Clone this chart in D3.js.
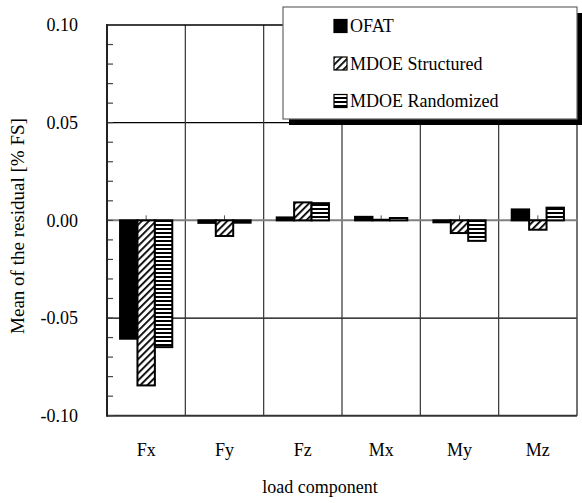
<!DOCTYPE html>
<html>
<head>
<meta charset="utf-8">
<script src="https://cdn.jsdelivr.net/npm/d3@7"></script>
<style>
  html, body { margin: 0; padding: 0; background: #fff; }
  svg { display: block; }
</style>
</head>
<body>
<svg id="chart" width="582" height="503" font-family="'Liberation Serif', 'Times New Roman', serif"></svg>
<script>
// Load components on the category axis
const categories = ["Fx", "Fy", "Fz", "Mx", "My", "Mz"];
// Series names (legend order)
const seriesNames = ["OFAT", "MDOE Structured", "MDOE Randomized"];
// Mean residual per load component, % FS
const ofat       = [-0.0606, -0.0013, 0.0015, 0.0018, -0.0010, 0.0056];
const structured = [-0.0845, -0.0080, 0.0092, 0.0003, -0.0065, -0.0048];
const randomized = [-0.0649, -0.0012, 0.0088, 0.0012, -0.0105, 0.0065];
// Value axis ticks
const yTicks = [-0.10, -0.05, 0.00, 0.05, 0.10];
const yTickLabels = ["-0.10", "-0.05", "0.00", "0.05", "0.10"];
const yMinorTicks = d3.range(-10, 11).map(i => i / 100);

const seriesValues = [ofat, structured, randomized];

const svg = d3.select("#chart");
const plot = { left: 107, top: 25, right: 577, bottom: 415.7 };

const x0 = d3.scaleBand().domain(categories).range([plot.left, plot.right]).paddingInner(0).paddingOuter(0);
// 3 bars + 150% gap width per category
const gapUnits = 1.5;
const x1 = d3.scaleBand().domain(seriesNames)
  .range([0, x0.bandwidth()])
  .paddingInner(0)
  .paddingOuter(gapUnits / 2);
const y = d3.scaleLinear().domain([-0.1, 0.1]).range([plot.bottom, plot.top]);

// Fill patterns
const defs = svg.append("defs");
const diag = defs.append("pattern").attr("id", "pat-diag")
  .attr("patternUnits", "userSpaceOnUse").attr("width", 5).attr("height", 5)
  .attr("patternTransform", "rotate(45)");
diag.append("rect").attr("width", 5).attr("height", 5).attr("fill", "#fff");
diag.append("rect").attr("x", 0).attr("y", 0).attr("width", 1.8).attr("height", 5).attr("fill", "#000");

const horiz = defs.append("pattern").attr("id", "pat-horiz")
  .attr("patternUnits", "userSpaceOnUse").attr("width", 4).attr("height", 4);
horiz.append("rect").attr("width", 4).attr("height", 4).attr("fill", "#fff");
horiz.append("rect").attr("x", 0).attr("y", 0).attr("width", 4).attr("height", 2).attr("fill", "#000");

const fills = { "OFAT": "#000", "MDOE Structured": "url(#pat-diag)", "MDOE Randomized": "url(#pat-horiz)" };

// Horizontal gridlines
const g = svg.append("g");
g.selectAll("line.hgrid").data(yTicks.filter(v => v !== 0 && Math.abs(v) < 0.1)).join("line")
  .attr("class", "hgrid")
  .attr("x1", plot.left).attr("x2", plot.right)
  .attr("y1", d => y(d)).attr("y2", d => y(d))
  .attr("stroke", "#000").attr("stroke-width", 1.2);

// Vertical gridlines at category boundaries
g.selectAll("line.vgrid").data(categories.slice(1)).join("line")
  .attr("class", "vgrid")
  .attr("x1", d => x0(d)).attr("x2", d => x0(d))
  .attr("y1", plot.top).attr("y2", plot.bottom)
  .attr("stroke", "#333").attr("stroke-width", 1.2);

// Plot frame
g.append("line").attr("x1", plot.left).attr("x2", plot.right).attr("y1", plot.top).attr("y2", plot.top)
  .attr("stroke", "#000").attr("stroke-width", 1.5);
g.append("line").attr("x1", plot.right).attr("x2", plot.right).attr("y1", plot.top).attr("y2", plot.bottom)
  .attr("stroke", "#444").attr("stroke-width", 1.5);
g.append("line").attr("x1", plot.left).attr("x2", plot.right).attr("y1", plot.bottom).attr("y2", plot.bottom)
  .attr("stroke", "#333").attr("stroke-width", 2);

// Zero line (category axis)
g.append("line").attr("x1", plot.left).attr("x2", plot.right).attr("y1", y(0)).attr("y2", y(0))
  .attr("stroke", "#808080").attr("stroke-width", 2);

// Category tick marks on the zero line
g.selectAll("line.ctick").data(categories).join("line")
  .attr("class", "ctick")
  .attr("x1", d => x0(d) + x0.bandwidth() / 2).attr("x2", d => x0(d) + x0.bandwidth() / 2)
  .attr("y1", y(0)).attr("y2", y(0) - 5)
  .attr("stroke", "#555").attr("stroke-width", 1);

// Bars
const groups = svg.append("g").selectAll("g").data(categories).join("g")
  .attr("transform", d => `translate(${x0(d)},0)`);
groups.selectAll("rect").data((c, i) => seriesNames.map((s, k) => ({ s, v: seriesValues[k][i] }))).join("rect")
  .attr("x", d => x1(d.s))
  .attr("width", x1.bandwidth())
  .attr("y", d => y(Math.max(0, d.v)))
  .attr("height", d => Math.abs(y(d.v) - y(0)))
  .attr("fill", d => fills[d.s])
  .attr("stroke", "#000").attr("stroke-width", 2);

// Value axis with inward minor ticks
const axisG = svg.append("g");
axisG.selectAll("line.mtick").data(yMinorTicks).join("line")
  .attr("class", "mtick")
  .attr("x1", plot.left).attr("x2", plot.left + 6)
  .attr("y1", d => y(d)).attr("y2", d => y(d))
  .attr("stroke", "#444").attr("stroke-width", 1.2);
axisG.append("line").attr("x1", plot.left).attr("x2", plot.left).attr("y1", plot.top - 1).attr("y2", plot.bottom + 1)
  .attr("stroke", "#222").attr("stroke-width", 2);
axisG.selectAll("text.ylab").data(yTicks).join("text")
  .attr("class", "ylab")
  .attr("x", 78).attr("y", d => y(d))
  .attr("dy", "0.35em")
  .attr("text-anchor", "end")
  .attr("font-size", 18)
  .text((d, i) => yTickLabels[i]);

// Category labels
svg.selectAll("text.xlab").data(categories).join("text")
  .attr("class", "xlab")
  .attr("x", d => x0(d) + x0.bandwidth() / 2)
  .attr("y", 456)
  .attr("text-anchor", "middle")
  .attr("font-size", 18)
  .text(d => d);

// Axis titles
svg.append("text").attr("x", 320).attr("y", 493).attr("text-anchor", "middle")
  .attr("font-size", 18).text("load component");
svg.append("text").attr("transform", "translate(24,226) rotate(-90)")
  .attr("text-anchor", "middle").attr("font-size", 19)
  .text("Mean of the residual [% FS]");

// Legend with drop shadow
const leg = { x: 283, y: 7, w: 294, h: 112, shadow: 6 };
svg.append("rect").attr("x", leg.x + leg.shadow).attr("y", leg.y + leg.shadow)
  .attr("width", leg.w).attr("height", leg.h).attr("fill", "#000");
svg.append("rect").attr("x", leg.x).attr("y", leg.y).attr("width", leg.w).attr("height", leg.h)
  .attr("fill", "#fff").attr("stroke", "#666").attr("stroke-width", 1.2);
const legItems = svg.append("g").selectAll("g").data(seriesNames).join("g")
  .attr("transform", (d, i) => `translate(334,${26 + i * 37.5})`);
legItems.append("rect").attr("x", 0).attr("y", -6.5).attr("width", 13).attr("height", 13)
  .attr("fill", d => fills[d]).attr("stroke", "#000").attr("stroke-width", 1.2);
legItems.append("text").attr("x", 16).attr("y", 0).attr("dy", "0.35em")
  .attr("font-size", 18).text(d => d);
</script>
</body>
</html>
